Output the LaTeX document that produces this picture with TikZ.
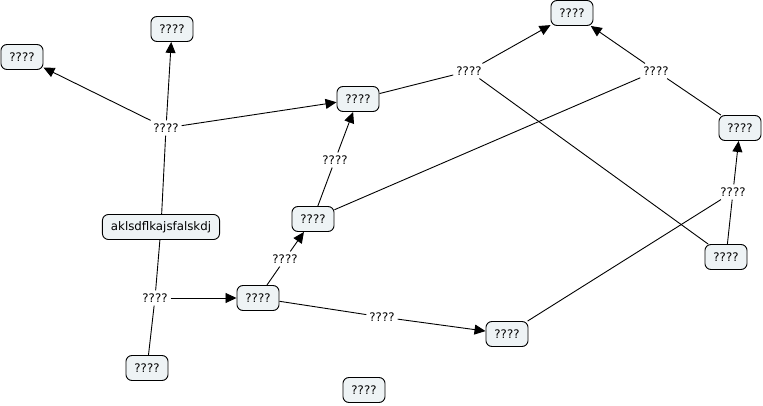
\documentclass[tikz,border=0pt]{standalone}
\usepackage{fontspec}
\setmainfont{DejaVu Sans}
\usetikzlibrary{arrows.meta}
\definecolor{boxfill}{RGB}{238,243,245}
\tikzset{
  concept/.style={draw=black, line width=0.9pt, rounded corners=6pt, fill=boxfill,
    minimum height=25pt, inner xsep=8.5pt, inner ysep=3pt, font=\fontsize{11.8}{14}\selectfont},
  phrase/.style={inner sep=3pt, font=\fontsize{11.8}{14}\selectfont},
  link/.style={line width=0.9pt, draw=black},
  arr/.style={link, -{Triangle[length=11pt,width=10pt]}}
}
\begin{document}
\begin{tikzpicture}[x=1pt,y=-1pt]
\useasboundingbox (0,0) rectangle (763,406);
% concepts
\node[concept] (A) at (22,57) {????};
\node[concept] (B) at (172,29) {????};
\node[concept] (C) at (572,13) {????};
\node[concept] (D) at (358,99) {????};
\node[concept] (E) at (740,128) {????};
\node[concept] (F) at (313,219) {????};
\node[concept] (M) at (161,227) {aklsdflkajsfalskdj};
\node[concept] (G) at (258,298) {????};
\node[concept] (H) at (726,257) {????};
\node[concept] (I) at (507,334) {????};
\node[concept] (J) at (147,368) {????};
\node[concept] (K) at (364,390) {????};
% linking phrases
\node[phrase] (L1) at (166,128) {????};
\node[phrase] (L2) at (155,298) {????};
\node[phrase] (L3) at (285,259) {????};
\node[phrase] (L4) at (335,160) {????};
\node[phrase] (L5) at (469,71) {????};
\node[phrase] (L6) at (656,71) {????};
\node[phrase] (L7) at (733,192) {????};
\node[phrase] (L8) at (382,317) {????};
% connections
\draw[link] (M) -- (L1);
\draw[arr] (L1) -- (A);
\draw[arr] (L1) -- (B);
\draw[arr] (L1) -- (D);
\draw[link] (M) -- (L2);
\draw[link] (J) -- (L2);
\draw[arr] (L2) -- (G);
\draw[link] (G) -- (L3);
\draw[arr] (L3) -- (F);
\draw[link] (F) -- (L4);
\draw[arr] (L4) -- (D);
\draw[link] (D) -- (L5);
\draw[arr] (L5) -- (C);
\draw[link] (H) -- (L5);
\draw[link] (E) -- (L6);
\draw[arr] (L6) -- (C);
\draw[link] (F) -- (L6);
\draw[link] (H) -- (L7);
\draw[arr] (L7) -- (E);
\draw[link] (I) -- (L7);
\draw[link] (G) -- (L8);
\draw[arr] (L8) -- (I);
\end{tikzpicture}
\end{document}
